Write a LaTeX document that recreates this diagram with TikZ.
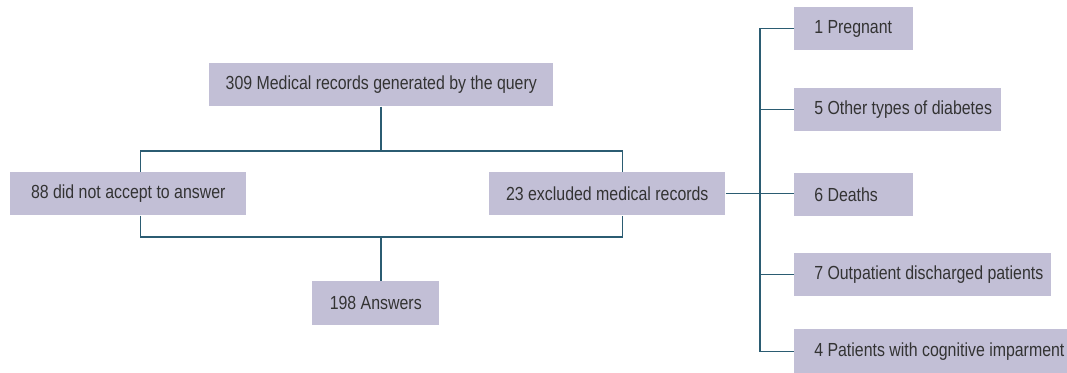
\documentclass[tikz,border=0pt]{standalone}
\usepackage{fontspec}
\setmainfont{Liberation Sans}[FakeStretch=0.84]
\definecolor{boxfill}{HTML}{C2BFD6}
\definecolor{linecol}{HTML}{2B5C72}
\definecolor{txtcol}{HTML}{333333}
\begin{document}
\begin{tikzpicture}[x=0.75pt,y=-0.75pt,
  every node/.style={font=\fontsize{14.2pt}{16pt}\selectfont, text=txtcol},
  cbox/.style={fill=boxfill, draw=none, anchor=north west, inner sep=0pt},
  lbox/.style={fill=boxfill, draw=none, anchor=north west, inner xsep=15pt, inner ysep=0pt},
  conn/.style={draw=linecol, line width=1.1pt}]
\useasboundingbox (0,0) rectangle (1067,373);
% main boxes
\node[cbox, minimum width=258pt, minimum height=32.25pt] (top) at (209,63) {309 Medical records generated by the query};
\node[cbox, minimum width=177pt, minimum height=32.25pt] (left) at (10,172) {88 did not accept to answer};
\node[cbox, minimum width=177pt, minimum height=32.25pt] (excl) at (489,172) {23 excluded medical records};
\node[cbox, minimum width=95.25pt, minimum height=33pt] (ans) at (312,281) {198 Answers};
% right boxes
\node[lbox, minimum height=32.25pt] (preg) at (794,7) {\makebox[59.25pt][l]{1 Pregnant}};
\node[lbox, minimum height=32.25pt] (other) at (794,88) {\makebox[125.25pt][l]{5 Other types of diabetes}};
\node[lbox, minimum height=32.25pt] (death) at (794,173) {\makebox[59.25pt][l]{6 Deaths}};
\node[lbox, minimum height=32.25pt] (outp) at (794,253) {\makebox[162.75pt][l]{7 Outpatient discharged patients}};
\node[lbox, minimum height=33pt] (cog) at (794,329) {\makebox[175.5pt][l]{4 Patients with cognitive imparment}};
% connectors
\coordinate (j1) at (381,151);
\coordinate (j2) at (381,237);
\coordinate (lt) at ([xshift=9pt]left.north);
\coordinate (lb) at ([xshift=9pt]left.south);
\coordinate (et) at ([xshift=11.25pt]excl.north);
\coordinate (eb) at ([xshift=11.25pt]excl.south);
\draw[conn] (top.south -| j1) -- (j1);
\draw[conn] (lt) |- (j1) -| (et);
\draw[conn] (lb) |- (j2) -| (eb);
\draw[conn] (j2) -- (j2 |- ans.north);
\draw[conn] (excl.east) -- (excl.east -| death.west);
\draw[conn] (preg.west) -- ++(-34,0) |- (cog.west);
\draw[conn] (other.west) -- ++(-34,0);
\draw[conn] (outp.west) -- ++(-34,0);
\end{tikzpicture}
\end{document}
